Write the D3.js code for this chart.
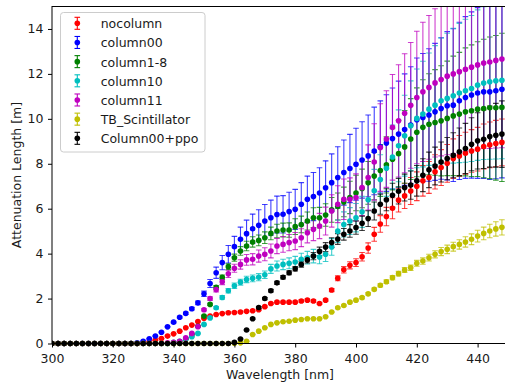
<!DOCTYPE html>
<html>
<head>
<meta charset="utf-8">
<script src="https://d3js.org/d3.v7.min.js"></script>
<style>
  body { margin: 0; background: #fff; }
  text { font-family: 'DejaVu Sans', sans-serif; fill: #1a1a1a; }
</style>
</head>
<body>
<div id="chart"></div>
<script>
// Wavelengths sampled every 2 nm (x axis)
const wavelengths = [
  300, 302, 304, 306, 308, 310, 312, 314, 316, 318,
  320, 322, 324, 326, 328, 330, 332, 334, 336, 338,
  340, 342, 344, 346, 348, 350, 352, 354, 356, 358,
  360, 362, 364, 366, 368, 370, 372, 374, 376, 378,
  380, 382, 384, 386, 388, 390, 392, 394, 396, 398,
  400, 402, 404, 406, 408, 410, 412, 414, 416, 418,
  420, 422, 424, 426, 428, 430, 432, 434, 436, 438,
  440, 442, 444, 446, 448
];

const xTicks = [300, 320, 340, 360, 380, 400, 420, 440];
const yTicks = [0, 2, 4, 6, 8, 10, 12, 14];

// Attenuation length [m] and its error, one pair of arrays per sample
const nocolumn = [
  0, 0, 0, 0, 0, 0, 0, 0, 0, 0,
  0, 0, 0, 0, 0, 0.03, 0.08, 0.15, 0.22, 0.33,
  0.43, 0.55, 0.70, 0.82, 0.98, 1.12, 1.22, 1.29, 1.33, 1.37,
  1.38, 1.40, 1.43, 1.46, 1.50, 1.64, 1.78, 1.84, 1.84, 1.84,
  1.84, 1.89, 1.93, 1.89, 1.78, 1.93, 2.38, 2.90, 3.28, 3.48,
  3.60, 3.86, 4.25, 4.86, 5.32, 5.65, 6.02, 6.38, 6.57, 6.79,
  7.00, 7.24, 7.39, 7.64, 7.83, 8.02, 8.23, 8.35, 8.47, 8.57,
  8.65, 8.77, 8.84, 8.90, 8.95
];
const nocolumnErr = [
  0, 0, 0, 0, 0, 0, 0, 0, 0, 0,
  0, 0, 0, 0, 0, 0.01, 0.01, 0.01, 0.01, 0.01,
  0.01, 0.01, 0.02, 0.02, 0.02, 0.02, 0.02, 0.02, 0.02, 0.03,
  0.03, 0.03, 0.03, 0.03, 0.03, 0.03, 0.04, 0.04, 0.04, 0.04,
  0.04, 0.05, 0.05, 0.05, 0.04, 0.05, 0.07, 0.11, 0.14, 0.16,
  0.17, 0.19, 0.23, 0.31, 0.37, 0.41, 0.47, 0.53, 0.56, 0.60,
  0.64, 0.68, 0.71, 0.76, 0.80, 0.84, 0.88, 0.91, 0.93, 0.95,
  0.97, 1.00, 1.02, 1.03, 1.04
];

const column00 = [
  0, 0, 0, 0, 0, 0, 0, 0, 0, 0,
  0, 0, 0, 0, 0.03, 0.10, 0.21, 0.33, 0.50, 0.74,
  0.95, 1.17, 1.34, 1.55, 1.81, 2.21, 2.67, 3.15, 3.60, 3.97,
  4.31, 4.64, 4.89, 5.11, 5.26, 5.45, 5.60, 5.74, 5.75, 5.87,
  5.97, 6.20, 6.42, 6.54, 6.70, 6.93, 7.16, 7.39, 7.61, 7.79,
  7.98, 8.17, 8.35, 8.57, 8.75, 8.92, 9.12, 9.32, 9.52, 9.72,
  9.96, 10.06, 10.17, 10.31, 10.46, 10.58, 10.61, 10.80, 10.95, 11.06,
  11.15, 11.20, 11.20, 11.25, 11.32
];
const column00Err = [
  0, 0, 0, 0, 0, 0, 0, 0, 0, 0,
  0, 0, 0, 0, 0.01, 0.01, 0.01, 0.01, 0.02, 0.02,
  0.03, 0.04, 0.05, 0.06, 0.08, 0.12, 0.18, 0.25, 0.32, 0.39,
  0.46, 0.54, 0.60, 0.65, 0.69, 0.74, 0.78, 0.82, 0.83, 0.86,
  0.89, 0.96, 1.03, 1.07, 1.12, 1.20, 1.28, 1.37, 1.45, 1.52,
  1.60, 1.70, 1.82, 1.95, 2.05, 2.15, 2.25, 2.36, 2.48, 2.60,
  2.75, 2.85, 2.95, 3.05, 3.15, 3.30, 3.40, 3.50, 3.60, 3.70,
  3.80, 3.85, 3.90, 3.92, 3.95
];

const column1to8 = [
  0, 0, 0, 0, 0, 0, 0, 0, 0, 0,
  0, 0, 0, 0, 0, 0, 0, 0, 0, 0,
  0.02, 0.08, 0.20, 0.40, 0.77, 1.22, 1.74, 2.50, 2.95, 3.42,
  3.82, 4.12, 4.34, 4.52, 4.59, 4.71, 4.90, 5.01, 5.05, 5.05,
  5.20, 5.30, 5.45, 5.60, 5.60, 5.72, 5.95, 6.10, 6.30, 6.50,
  6.70, 6.90, 7.15, 7.45, 7.70, 7.95, 8.20, 8.45, 8.75, 9.10,
  9.40, 9.62, 9.76, 9.84, 9.91, 10.02, 10.13, 10.21, 10.31, 10.36,
  10.43, 10.46, 10.49, 10.49, 10.51
];
const column1to8Err = [
  0, 0, 0, 0, 0, 0, 0, 0, 0, 0,
  0, 0, 0, 0, 0, 0, 0, 0, 0, 0,
  0, 0.01, 0.01, 0.02, 0.02, 0.03, 0.05, 0.08, 0.10, 0.13,
  0.16, 0.19, 0.21, 0.23, 0.24, 0.26, 0.28, 0.30, 0.31, 0.32,
  0.35, 0.37, 0.40, 0.44, 0.46, 0.50, 0.55, 0.60, 0.66, 0.72,
  0.79, 0.86, 0.95, 1.05, 1.15, 1.25, 1.36, 1.48, 1.62, 1.80,
  1.98, 2.12, 2.25, 2.35, 2.45, 2.55, 2.66, 2.75, 2.85, 2.93,
  3.00, 3.08, 3.15, 3.22, 3.30
];

const column10 = [
  0, 0, 0, 0, 0, 0, 0, 0, 0, 0,
  0, 0, 0, 0, 0, 0, 0, 0, 0, 0,
  0.05, 0.10, 0.20, 0.30, 0.45, 0.85, 1.14, 1.59, 2.05, 2.35,
  2.57, 2.73, 2.85, 2.90, 2.95, 3.06, 3.32, 3.45, 3.52, 3.57,
  3.63, 3.75, 3.82, 3.89, 3.85, 3.97, 4.30, 5.00, 5.30, 5.45,
  5.60, 5.86, 6.40, 6.80, 7.30, 7.80, 8.30, 8.80, 9.25, 9.69,
  10.02, 10.21, 10.43, 10.61, 10.80, 10.91, 11.03, 11.15, 11.25, 11.35,
  11.50, 11.59, 11.65, 11.69, 11.72
];
const column10Err = [
  0, 0, 0, 0, 0, 0, 0, 0, 0, 0,
  0, 0, 0, 0, 0, 0, 0, 0, 0, 0,
  0.01, 0.01, 0.01, 0.01, 0.02, 0.02, 0.03, 0.05, 0.08, 0.10,
  0.12, 0.13, 0.14, 0.15, 0.16, 0.17, 0.20, 0.22, 0.23, 0.24,
  0.25, 0.27, 0.28, 0.30, 0.30, 0.32, 0.37, 0.50, 0.56, 0.60,
  0.63, 0.69, 0.82, 0.95, 1.10, 1.25, 1.42, 1.60, 1.80, 2.00,
  2.20, 2.35, 2.50, 2.65, 2.80, 2.90, 3.00, 3.10, 3.18, 3.25,
  3.35, 3.40, 3.45, 3.48, 3.50
];

const column11 = [
  0, 0, 0, 0, 0, 0, 0, 0, 0, 0,
  0, 0, 0, 0, 0, 0, 0, 0, 0, 0.03,
  0.05, 0.10, 0.25, 0.45, 0.75, 1.50, 2.00, 2.40, 2.75, 3.10,
  3.35, 3.52, 3.72, 3.75, 3.89, 3.97, 4.12, 4.34, 4.41, 4.49,
  4.56, 4.71, 4.93, 5.08, 5.23, 5.45, 5.90, 6.20, 6.42, 6.42,
  6.50, 6.94, 7.39, 8.08, 8.72, 9.10, 9.62, 9.91, 10.25, 10.60,
  10.95, 11.20, 11.40, 11.60, 11.75, 11.90, 12.00, 12.10, 12.20, 12.30,
  12.40, 12.48, 12.53, 12.60, 12.66
];
const column11Err = [
  0, 0, 0, 0, 0, 0, 0, 0, 0, 0,
  0, 0, 0, 0, 0, 0, 0, 0, 0, 0,
  0.01, 0.01, 0.01, 0.02, 0.03, 0.05, 0.08, 0.10, 0.13, 0.16,
  0.18, 0.21, 0.24, 0.25, 0.27, 0.29, 0.31, 0.34, 0.35, 0.36,
  0.38, 0.40, 0.45, 0.50, 0.56, 0.62, 0.72, 0.82, 0.90, 0.95,
  1.05, 1.25, 1.45, 1.70, 1.95, 2.15, 2.35, 2.50, 2.65, 2.80,
  2.95, 3.10, 3.20, 3.30, 3.40, 3.50, 3.55, 3.60, 3.65, 3.70,
  3.75, 3.80, 3.85, 3.90, 3.95
];

const tbScintillator = [
  0, 0, 0, 0, 0, 0, 0, 0, 0, 0,
  0, 0, 0, 0, 0, 0, 0, 0, 0, 0,
  0, 0, 0, 0, 0, 0, 0, 0, 0, 0,
  0.01, 0.03, 0.10, 0.40, 0.55, 0.70, 0.85, 0.92, 0.97, 0.99,
  1.04, 1.07, 1.10, 1.10, 1.10, 1.19, 1.40, 1.59, 1.69, 1.84,
  1.93, 2.04, 2.21, 2.41, 2.59, 2.75, 2.93, 3.11, 3.27, 3.37,
  3.57, 3.67, 3.82, 3.97, 4.09, 4.19, 4.31, 4.41, 4.52, 4.64,
  4.78, 4.90, 5.01, 5.10, 5.17
];
const tbScintillatorErr = [
  0, 0, 0, 0, 0, 0, 0, 0, 0, 0,
  0, 0, 0, 0, 0, 0, 0, 0, 0, 0,
  0, 0, 0, 0, 0, 0, 0, 0, 0, 0,
  0, 0, 0.01, 0.01, 0.01, 0.01, 0.01, 0.01, 0.01, 0.01,
  0.01, 0.01, 0.01, 0.01, 0.01, 0.02, 0.02, 0.03, 0.03, 0.04,
  0.04, 0.05, 0.05, 0.06, 0.07, 0.08, 0.09, 0.10, 0.11, 0.12,
  0.13, 0.14, 0.15, 0.16, 0.18, 0.19, 0.20, 0.21, 0.23, 0.24,
  0.26, 0.28, 0.30, 0.32, 0.34
];

const column00ppo = [
  0, 0, 0, 0, 0, 0, 0, 0, 0, 0,
  0, 0, 0, 0, 0, 0, 0, 0, 0, 0,
  0, 0, 0, 0, 0, 0, 0, 0, 0, 0,
  0.05, 0.20, 0.60, 1.10, 1.60, 2.00, 2.35, 2.70, 2.95, 3.15,
  3.33, 3.52, 3.72, 3.89, 4.10, 4.29, 4.49, 4.65, 4.86, 5.01,
  5.16, 5.35, 5.56, 5.90, 6.20, 6.40, 6.60, 6.78, 6.94, 7.05,
  7.24, 7.49, 7.73, 7.90, 8.08, 8.23, 8.38, 8.53, 8.68, 8.87,
  9.02, 9.09, 9.21, 9.27, 9.32
];
const column00ppoErr = [
  0, 0, 0, 0, 0, 0, 0, 0, 0, 0,
  0, 0, 0, 0, 0, 0, 0, 0, 0, 0,
  0, 0, 0, 0, 0, 0, 0, 0, 0, 0,
  0.01, 0.01, 0.02, 0.03, 0.04, 0.05, 0.06, 0.07, 0.08, 0.09,
  0.10, 0.12, 0.14, 0.16, 0.19, 0.20, 0.22, 0.24, 0.26, 0.28,
  0.30, 0.32, 0.35, 0.40, 0.45, 0.49, 0.53, 0.57, 0.60, 0.63,
  0.68, 0.73, 0.79, 0.84, 0.89, 0.94, 1.00, 1.06, 1.12, 1.18,
  1.25, 1.30, 1.36, 1.42, 1.48
];

const seriesNames = ['nocolumn', 'column00', 'column1-8', 'column10', 'column11', 'TB_Scintillator', 'Column00+ppo'];
const seriesColors = ['#ff0000', '#0000ff', '#008000', '#00bfbf', '#bf00bf', '#bfbf00', '#000000'];
const seriesValues = [nocolumn, column00, column1to8, column10, column11, tbScintillator, column00ppo];
const seriesErrors = [nocolumnErr, column00Err, column1to8Err, column10Err, column11Err, tbScintillatorErr, column00ppoErr];

const series = seriesNames.map((name, k) => ({
  name,
  color: seriesColors[k],
  points: wavelengths.map((w, i) => ({ w, v: seriesValues[k][i], e: seriesErrors[k][i] }))
}));

const W = 505, H = 383;
const margin = { top: 6.5, left: 52 };
const plotW = 456, plotH = 337;

const svg = d3.select('#chart').append('svg')
  .attr('width', W)
  .attr('height', H);

svg.append('rect').attr('width', W).attr('height', H).attr('fill', '#fff');

const x = d3.scaleLinear().domain([300, 450]).range([margin.left, margin.left + plotW]);
const y = d3.scaleLinear().domain([0, 15]).range([margin.top + plotH, margin.top]);

svg.append('defs').append('clipPath').attr('id', 'plot-clip')
  .append('rect')
  .attr('x', margin.left).attr('y', margin.top)
  .attr('width', plotW).attr('height', plotH + 4);

const plot = svg.append('g').attr('clip-path', 'url(#plot-clip)');

const capHalf = 2.8;

// matplotlib puts every error bar under every marker, so bars first
series.forEach(s => {
  const g = plot.append('g')
    .attr('stroke', s.color)
    .attr('stroke-width', 1.1)
    .attr('stroke-opacity', 0.75);

  g.selectAll('line.bar').data(s.points).join('line')
    .attr('class', 'bar')
    .attr('x1', d => x(d.w)).attr('x2', d => x(d.w))
    .attr('y1', d => y(d.v - d.e)).attr('y2', d => y(d.v + d.e));

  const caps = s.points.flatMap(d => [d.v - d.e, d.v + d.e].map(c => ({ w: d.w, c })));
  g.selectAll('line.cap').data(caps).join('line')
    .attr('class', 'cap')
    .attr('x1', d => x(d.w) - capHalf).attr('x2', d => x(d.w) + capHalf)
    .attr('y1', d => y(d.c)).attr('y2', d => y(d.c));
});

series.forEach(s => {
  plot.append('g').selectAll('circle').data(s.points).join('circle')
    .attr('cx', d => x(d.w))
    .attr('cy', d => y(d.v))
    .attr('r', 2.8)
    .attr('fill', s.color);
});

// Axes
const xAxis = svg.append('g')
  .attr('transform', `translate(0,${margin.top + plotH})`)
  .call(d3.axisBottom(x).tickValues(xTicks).tickSize(4).tickPadding(6.5));
const yAxis = svg.append('g')
  .attr('transform', `translate(${margin.left},0)`)
  .call(d3.axisLeft(y).tickValues(yTicks).tickSize(4).tickPadding(4.5));

[xAxis, yAxis].forEach(a => {
  a.select('.domain').remove();
  a.selectAll('.tick line').attr('stroke', '#000').attr('stroke-width', 1);
  a.selectAll('.tick text').style('font-size', '12.5px').style('font-family', 'DejaVu Sans').attr('fill', '#1a1a1a');
});

svg.append('rect')
  .attr('x', margin.left).attr('y', margin.top)
  .attr('width', plotW).attr('height', plotH)
  .attr('fill', 'none').attr('stroke', '#000').attr('stroke-width', 1);

svg.append('text')
  .attr('x', margin.left + plotW / 2)
  .attr('y', 378.5)
  .attr('text-anchor', 'middle')
  .style('font-size', '12.5px')
  .text('Wavelength [nm]');

svg.append('text')
  .attr('transform', `translate(20.5,${margin.top + plotH / 2}) rotate(-90)`)
  .attr('text-anchor', 'middle')
  .style('font-size', '12.5px')
  .text('Attenuation Length [m]');

// Legend
const legend = svg.append('g');
legend.append('rect')
  .attr('x', 60.5).attr('y', 12.5)
  .attr('width', 144.5).attr('height', 139.5)
  .attr('rx', 3)
  .attr('fill', '#fff').attr('fill-opacity', 0.8)
  .attr('stroke', '#cccccc').attr('stroke-width', 1);

const rows = legend.selectAll('g.row').data(series).join('g')
  .attr('class', 'row')
  .attr('transform', (d, i) => `translate(77.3,${23.3 + i * 19.17})`);

rows.append('line').attr('y1', -6).attr('y2', 6).attr('stroke', d => d.color).attr('stroke-width', 1.1);
rows.append('line').attr('x1', -capHalf).attr('x2', capHalf).attr('y1', -6).attr('y2', -6).attr('stroke', d => d.color).attr('stroke-width', 1.1);
rows.append('line').attr('x1', -capHalf).attr('x2', capHalf).attr('y1', 6).attr('y2', 6).attr('stroke', d => d.color).attr('stroke-width', 1.1);
rows.append('circle').attr('r', 2.8).attr('fill', d => d.color);
rows.append('text')
  .attr('x', 23.4).attr('y', 5)
  .style('font-size', '12.5px')
  .text(d => d.name);
</script>
</body>
</html>
